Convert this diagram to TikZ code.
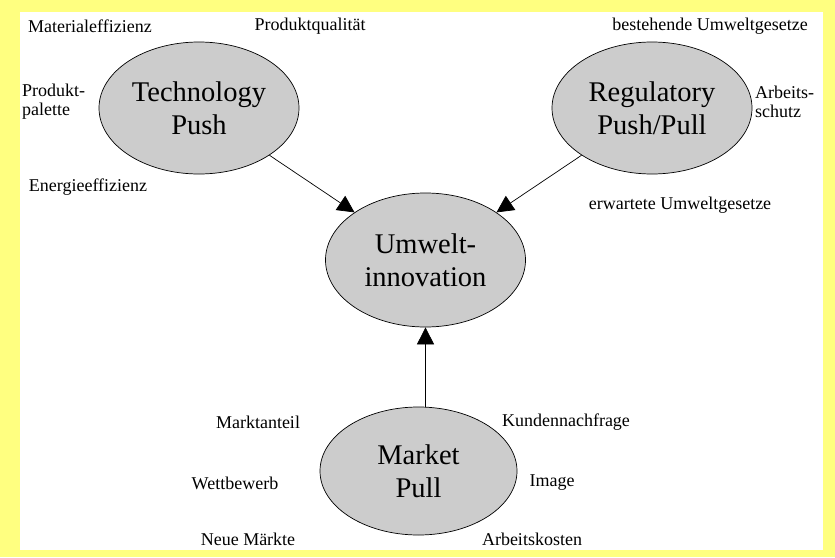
\documentclass[tikz,border=0pt]{standalone}
\usepackage{fontspec}
\setmainfont{Liberation Serif}
\usetikzlibrary{arrows.meta, shapes.geometric}
\definecolor{frame-yellow}{HTML}{FFFF80}
\definecolor{bubble-grey}{HTML}{CCCCCC}
\tikzset{
  x=1pt, y=-1pt,
  driver/.style={ellipse, draw=black, line width=0.7pt, fill=bubble-grey,
    minimum width=200pt, minimum height=132pt, inner sep=0pt,
    align=center, font=\fontsize{28.5}{33}\selectfont},
  factor/.style={font=\fontsize{18}{19}\selectfont, inner sep=0pt},
  % Filled arrow from a driver into the centre bubble
  push/.style={draw=black, line width=0.7pt, -{Triangle[length=17pt, width=17pt]}}
}
\begin{document}
\begin{tikzpicture}

  % ---- Frame --------------------------------------------------------------
  \fill[frame-yellow] (0,0) rectangle (835,557);
  \fill[white] (20,12) rectangle (823,550);

  % ---- Drivers ------------------------------------------------------------
  \node[driver] (Tech) at (199,108) {Technology\\Push};
  \node[driver] (Reg)  at (652,108) {Regulatory\\Push/Pull};
  \node[driver, minimum height=134pt] (Umwelt) at (425.5,260) {Umwelt-\\innovation};
  \node[driver, minimum width=197pt, minimum height=128pt] (Market) at (418.5,471) {Market\\Pull};

  % ---- Technology push factors --------------------------------------------
  \node[factor] (matEff)  at (90,26)  {Materialeffizienz};
  \node[factor] (prodQual) at (310,26) {Produktqualität};
  \node[factor, anchor=west, align=left] (prodPal) at (22,102) {Produkt-\\palette};
  \node[factor] (enEff)   at (88,187) {Energieeffizienz};

  % ---- Regulatory factors -------------------------------------------------
  \node[factor] (lawNow)  at (710,26)  {bestehende Umweltgesetze};
  \node[factor, anchor=west, align=left] (safety) at (755,102) {Arbeits-\\schutz};
  \node[factor] (lawNext) at (680,205) {erwartete Umweltgesetze};

  % ---- Market pull factors ------------------------------------------------
  \node[factor] (share)   at (258,422) {Marktanteil};
  \node[factor] (demand)  at (566,422) {Kundennachfrage};
  \node[factor] (compet)  at (235,483) {Wettbewerb};
  \node[factor] (image)   at (552,483) {Image};
  \node[factor] (newMkt)  at (248,539) {Neue Märkte};
  \node[factor] (labour)  at (532,539) {Arbeitskosten};

  % ---- Arrows into the innovation -----------------------------------------
  \draw[push] (Tech) -- (Umwelt);
  \draw[push] (Reg) -- (Umwelt);
  \draw[push] (Umwelt.south |- Market.north) -- (Umwelt.south);

\end{tikzpicture}
\end{document}
